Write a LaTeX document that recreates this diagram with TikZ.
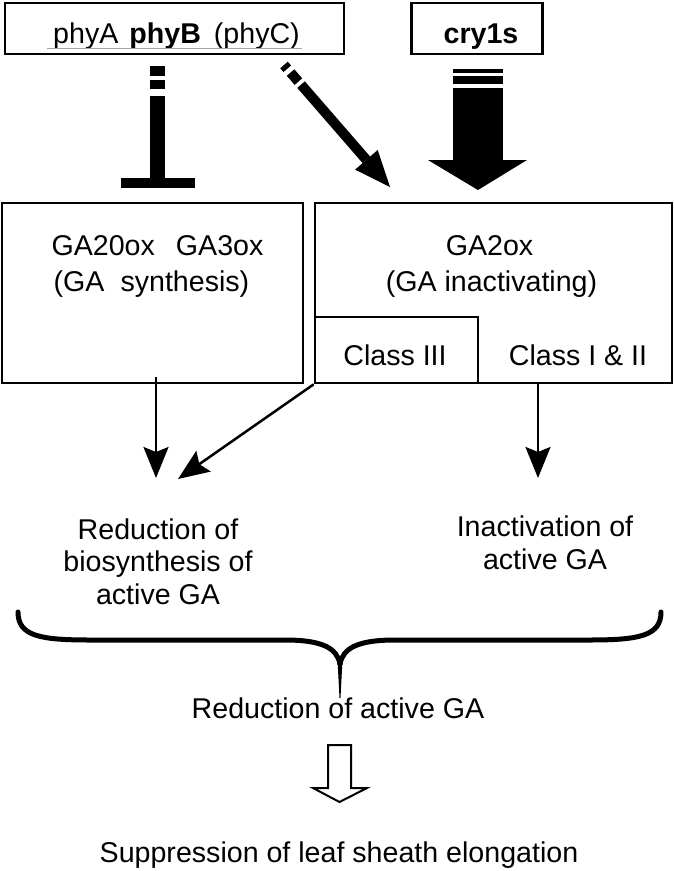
\documentclass[tikz,border=0pt]{standalone}
\usepackage{fontspec}
\setmainfont{Liberation Sans}
\usetikzlibrary{arrows.meta,calc}
\begin{document}
\begin{tikzpicture}[x=1pt,y=-1pt,
  boxsty/.style={draw,line width=2.7pt,inner sep=0pt},
  txt/.style={inner sep=0pt,anchor=base,font=\fontsize{28.6}{32.5}\selectfont},
  mtxt/.style={inner sep=0pt,align=center,font=\fontsize{28.6}{32.5}\selectfont},
  conn/.style={line width=2.5pt,-{Stealth[length=31pt,width=25pt,inset=5pt]}}]
\useasboundingbox (0,0) rectangle (674,871);
% top boxes
\node[boxsty,minimum width=339pt,minimum height=51pt] (phybox) at (174.5,28.5) {};
\node[boxsty,minimum width=131pt,minimum height=51pt] (crybox) at (477,28.5) {};
\node[txt] (phytext) at (176.5,43) {phyA\hspace{11pt}\textbf{phyB}\hspace{13pt}(phyC)};
\draw[gray!70,line width=0.8pt] (47,48) -- (302,48);
\node[txt] (crytext) at (481,43) {\textbf{cry1s}};
% middle boxes
\node[boxsty,minimum width=301pt,minimum height=180pt] (synbox) at (152.5,293) {};
\node[boxsty,minimum width=357pt,minimum height=180pt] (inbox) at (493.5,293) {};
\node[boxsty,minimum width=163pt,minimum height=66pt] (c3box) at (396.5,350) {};
\node[txt] (syn1) at (157.5,255) {GA20ox\hspace{21pt}GA3ox};
\node[txt] (syn2) at (151.5,291) {(GA\hspace{16pt}synthesis)};
\node[txt] (in1) at (489.5,255) {GA2ox};
\node[txt] (in2) at (491.5,291) {(GA inactivating)};
\node[txt] (c3) at (395,365) {Class III};
\node[txt] (c12) at (578,365) {Class I \& II};
% T-bar inhibition
\coordinate (Ttop) at ($(phybox.south)+(-17,11)$);
\coordinate (Tbar) at ($(synbox.north)+(5,-19)$);
\draw[line width=15pt,dash pattern=on 10pt off 4pt on 9pt off 7pt on 300pt] (Ttop) -- (Tbar);
\fill ($(Tbar)+(-37,-5)$) rectangle ($(Tbar)+(37,5)$);
% diagonal striped arrow
\coordinate (dstart) at (284,65);
\coordinate (dtip) at (390,187);
\coordinate (dbase) at ($(dtip)!36pt!(dstart)$);
\draw[line width=10pt,dash pattern=on 5pt off 5pt on 12pt off 4pt on 300pt] (dstart) -- (dbase);
\fill (dtip) -- ($(dbase)!15pt!90:(dtip)$) -- ($(dbase)!15pt!-90:(dtip)$) -- cycle;
% cry1s fat arrow
\coordinate (cstart) at ($(crybox.south)+(1,14)$);
\coordinate (cbase) at (478,160);
\coordinate (ctip) at (478,190);
\draw[line width=50pt,dash pattern=on 4pt off 3pt on 8pt off 4pt on 300pt] (cstart) -- (cbase);
\fill ($(cbase)+(-50,0)$) -- ($(cbase)+(49,0)$) -- (ctip) -- cycle;
% lower connectors
\coordinate (a1s) at (156,377);
\coordinate (a1e) at (156,478);
\coordinate (a2e) at (178,479);
\coordinate (a3s) at (538,383);
\coordinate (a3e) at (538,478);
\draw[conn] (a1s) -- (a1e);
\draw[conn] (c3box.south west) -- (a2e);
\draw[conn] (a3s) -- (a3e);
% result texts (anchor=base is the last line's baseline)
\node[mtxt,anchor=base] (red1) at (158,604) {Reduction of\\biosynthesis of\\active GA};
\node[mtxt,anchor=base] (inact) at (545,569) {Inactivation of\\active GA};
% brace
\draw[line width=5pt,line cap=round] (18,612) .. controls (18,636) and (40,640) .. (90,640) -- (285,640) .. controls (322,640) and (337,648) .. (340,664);
\draw[line width=5pt,line cap=round] (661,612) .. controls (661,636) and (639,640) .. (589,640) -- (395,640) .. controls (358,640) and (343,648) .. (340,664);
\fill (337.5,660) -- (342.5,660) -- (340.5,698) -- (339.5,698) -- cycle;
\node[txt] (redall) at (338,718) {Reduction of active GA};
\node[txt] (supp) at (339,862) {Suppression of leaf sheath elongation};
% outline arrow
\coordinate (oa) at ($(redall.base)+(1.5,27)$);
\coordinate (ob) at ($(supp.base)+(0.5,-60)$);
\draw[line width=2pt,line join=miter] ($(oa)+(-11.5,0)$) -- ($(oa)+(11.5,0)$) -- ($(ob)+(11.5,-14)$) -- ($(ob)+(27.5,-14)$) -- (ob) -- ($(ob)+(-26.5,-14)$) -- ($(ob)+(-11.5,-14)$) -- cycle;
\end{tikzpicture}
\end{document}
